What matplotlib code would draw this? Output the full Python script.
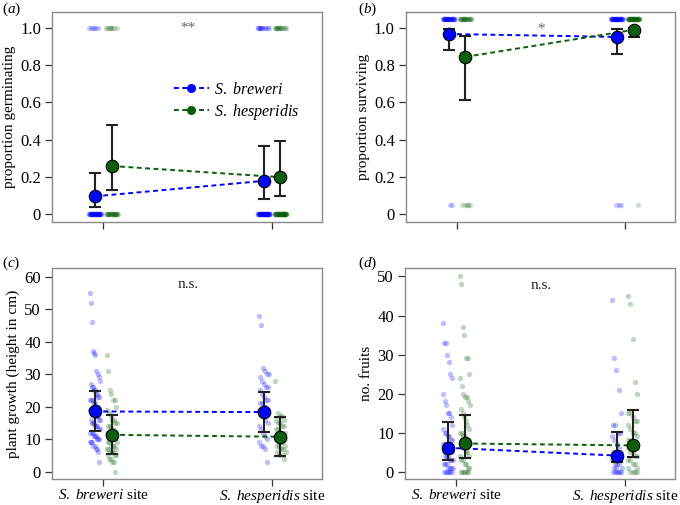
#!/usr/bin/env python3
# -*- coding: utf-8 -*-
"""Reciprocal transplant: germination, survival, growth, fruits (4 panels)."""

import numpy as np
import matplotlib
matplotlib.use("Agg")
import matplotlib.pyplot as plt
from matplotlib.lines import Line2D

plt.rcParams["font.family"] = ["Liberation Serif", "DejaVu Serif"]
plt.rcParams["mathtext.fontset"] = "custom"
plt.rcParams["mathtext.rm"] = "Liberation Serif"
plt.rcParams["mathtext.it"] = "Liberation Serif:italic"

BLUE = "#0000ff"
GREEN = "#0b5e0b"
FRAME = "#8a8a8a"

sites = [r"$\mathit{S.\ breweri}$ site", r"$\mathit{S.\ hesperidis}$ site"]
species = [r"$\mathit{S.\ breweri}$", r"$\mathit{S.\ hesperidis}$"]

# ---- (a) germination: counts of 1 / 0 per species x site
germ_ones = {"brew": [6, 12], "hesp": [8, 14]}
germ_zeros = {"brew": [40, 48], "hesp": [24, 50]}
germ_mean = {"brew": [0.095, 0.178], "hesp": [0.258, 0.198]}
germ_lo = {"brew": [0.040, 0.082], "hesp": [0.130, 0.095]}
germ_hi = {"brew": [0.222, 0.365], "hesp": [0.478, 0.393]}

# ---- (b) survival: counts survived / died (plotted at 1.05 / 0.05)
surv_ones = {"brew": [30, 36], "hesp": [20, 40]}
surv_zeros = {"brew": [2, 3], "hesp": [5, 1]}
surv_mean = {"brew": [0.968, 0.952], "hesp": [0.845, 0.990]}
surv_lo = {"brew": [0.880, 0.858], "hesp": [0.615, 0.950]}
surv_hi = {"brew": [0.995, 0.995], "hesp": [0.955, 0.998]}

# ---- (c) plant growth (height, cm)
grow_brew_s1 = [55, 52, 46, 37, 36.5, 36, 31, 30, 29, 28, 27, 26, 26, 25, 25, 24, 24,
                23, 23, 22, 22, 22, 21, 21, 20, 20, 20, 19, 19, 19, 18, 18, 18, 17,
                17, 17, 16, 16, 16, 15, 15, 15, 14, 14, 14, 13, 13, 12, 12, 12, 11,
                11, 11, 10, 10, 10, 9, 9, 9, 8, 8, 7, 7, 6, 3]
grow_hesp_s1 = [36, 31, 25, 24, 22, 22, 20, 19, 18, 17, 16, 16, 15, 15, 14, 14, 13,
                13, 12, 12, 12, 11, 11, 10, 10, 10, 9, 9, 9, 8, 8, 8, 7, 7, 7, 6, 6,
                6, 5, 5, 5, 4, 4, 3, 3, 0]
grow_brew_s2 = [48, 45, 32, 31, 30, 30, 29, 28, 27, 26, 26, 25, 24, 23, 22, 22, 21,
                21, 20, 20, 19, 19, 18, 17, 16, 15, 14, 13, 12, 11, 10, 9, 8, 8, 7, 3]
grow_hesp_s2 = [28, 18, 17, 17, 16, 16, 15, 15, 14, 14, 13, 13, 12, 12, 12, 11, 11,
                11, 10, 10, 10, 9, 9, 9, 8, 8, 8, 7, 7, 6, 6, 5, 5, 4]
grow_mean = {"brew": [18.5, 18.3], "hesp": [11.3, 10.7]}
grow_lo = {"brew": [12.5, 12.3], "hesp": [5.3, 4.8]}
grow_hi = {"brew": [24.7, 24.4], "hesp": [17.5, 16.7]}

# ---- (d) number of fruits
fruit_brew_s1 = [38, 33, 33, 30, 28, 25, 24, 20, 18, 17, 15, 15, 14, 12, 11, 10, 10,
                 9, 9, 8, 8, 7, 7, 6, 6, 6, 5, 5, 5, 4, 4, 4, 3, 3, 3, 2, 2, 2, 1, 1,
                 1, 1, 0, 0, 0, 0, 0, 0]
fruit_hesp_s1 = [50, 48, 37, 35, 29, 29, 25, 24, 22, 20, 19, 19, 18, 17, 16, 15, 14,
                 13, 12, 11, 10, 10, 9, 9, 8, 8, 7, 7, 6, 6, 5, 5, 4, 4, 3, 3, 2, 2,
                 1, 1, 0, 0, 0, 0, 0, 0]
fruit_brew_s2 = [44, 29, 26, 21, 15, 12, 12, 10, 10, 9, 8, 7, 6, 5, 5, 4, 4, 3, 3, 2,
                 2, 2, 1, 1, 1, 0, 0, 0, 0, 0, 0]
fruit_hesp_s2 = [45, 43, 34, 23, 20, 15, 15, 14, 13, 13, 12, 11, 10, 10, 9, 8, 8, 7,
                 7, 6, 6, 5, 5, 4, 4, 3, 3, 2, 2, 1, 1, 0, 0, 0, 0]
fruit_mean = {"brew": [6.1, 4.1], "hesp": [7.2, 6.7]}
fruit_lo = {"brew": [3.0, 2.4], "hesp": [3.6, 3.7]}
fruit_hi = {"brew": [12.6, 10.2], "hesp": [14.5, 15.9]}

XPOS = [1, 2]
OFF = {"brew": -0.05, "hesp": 0.05}
COL = {"brew": BLUE, "hesp": GREEN}


def jitter(n, width):
    # deterministic spread of n points over [-width, width]
    if n <= 1:
        return np.zeros(n)
    idx = (np.arange(n) * 7) % n
    return (idx / (n - 1) - 0.5) * 2 * width


def raw(ax, x, vals, sp, width=0.03, alpha=0.25):
    vals = np.asarray(vals, dtype=float)
    ax.scatter(x + jitter(len(vals), width), vals, s=15, color=COL[sp],
               alpha=alpha, linewidths=0, zorder=2)


def means(ax, mean, lo, hi):
    for sp in ["brew", "hesp"]:
        xs = [p + OFF[sp] for p in XPOS]
        m = np.array(mean[sp])
        err = [m - np.array(lo[sp]), np.array(hi[sp]) - m]
        ax.plot(xs, m, ls=(0, (2.5, 1.8)), color=COL[sp], lw=1.4, zorder=3)
        ax.errorbar(xs, m, yerr=err, fmt="none", ecolor="#222222", elinewidth=1.5,
                    capsize=4, capthick=1.5, zorder=4)
        ax.plot(xs, m, "o", ms=9, mfc=COL[sp], mec="black", mew=0.8, zorder=5)


def style(ax, ylim, yticks, yticklabels, ylabel, xlabels=True):
    ax.set_xlim(0.696, 2.296)
    ax.set_ylim(*ylim)
    ax.set_yticks(yticks)
    ax.set_yticklabels(yticklabels)
    ax.set_xticks(XPOS)
    if xlabels:
        ax.set_xticklabels(sites)
    else:
        ax.set_xticklabels(["", ""])
    ax.set_ylabel(ylabel, fontsize=11, labelpad=3)
    for s in ax.spines.values():
        s.set_color(FRAME)
        s.set_linewidth(1.0)
    ax.tick_params(axis="both", length=5, width=0.9, color="#333333", pad=3)
    ax.tick_params(axis="y", labelsize=12)
    ax.tick_params(axis="x", labelsize=11, pad=1.5)


fig = plt.figure(figsize=(6.8, 5.05), dpi=100)
ax_a = fig.add_axes([0.0765, 0.5604, 0.397, 0.4158])
ax_b = fig.add_axes([0.597, 0.5604, 0.3956, 0.4158])
ax_c = fig.add_axes([0.0765, 0.0515, 0.397, 0.418])
ax_d = fig.add_axes([0.5956, 0.0515, 0.3970, 0.418])

prop_ticks = [0, 0.2, 0.4, 0.6, 0.8, 1.0]
prop_labels = ["0", "0.2", "0.4", "0.6", "0.8", "1.0"]

# (a)
for sp in ["brew", "hesp"]:
    for i, p in enumerate(XPOS):
        v = np.repeat([1.0, 0.0], [germ_ones[sp][i], germ_zeros[sp][i]])
        raw(ax_a, p + OFF[sp], v, sp, width=0.035, alpha=0.2)
means(ax_a, germ_mean, germ_lo, germ_hi)
style(ax_a, (-0.043, 1.086), prop_ticks, prop_labels, "proportion germinating", False)
ax_a.text(1.5, 1.0, "**", ha="center", va="center", fontsize=11, color="#666666")
handles = [Line2D([], [], color=COL[sp], ls=(0, (2.5, 1.8)), lw=1.4, marker="o",
                  ms=5.5) for sp in ["brew", "hesp"]]
ax_a.legend(handles, species, loc="upper left", bbox_to_anchor=(0.41, 0.72),
            frameon=False, fontsize=11.5, handlelength=2.2, handletextpad=0.3,
            labelspacing=0.25, borderpad=0.2)

# (b)
for sp in ["brew", "hesp"]:
    for i, p in enumerate(XPOS):
        v = np.repeat([1.0, 0.0], [surv_ones[sp][i], surv_zeros[sp][i]]) + 0.05
        raw(ax_b, p + OFF[sp], v, sp, width=0.035, alpha=0.2)
means(ax_b, surv_mean, surv_lo, surv_hi)
style(ax_b, (-0.043, 1.086), prop_ticks, prop_labels, "proportion surviving", False)
ax_b.text(1.5, 0.995, "*", ha="center", va="center", fontsize=11, color="#666666")

# (c)
for sp, p, vals in [("brew", 1, grow_brew_s1), ("hesp", 1, grow_hesp_s1),
                    ("brew", 2, grow_brew_s2), ("hesp", 2, grow_hesp_s2)]:
    raw(ax_c, p + OFF[sp], vals, sp, width=0.03)
means(ax_c, grow_mean, grow_lo, grow_hi)
style(ax_c, (-2.3, 62.7), [0, 10, 20, 30, 40, 50, 60],
      ["0", "10", "20", "30", "40", "50", "60"], "plant growth (height in cm)")
ax_c.text(1.5, 57.5, "n.s.", ha="center", va="center", fontsize=11, color="#222222")

# (d)
for sp, p, vals in [("brew", 1, fruit_brew_s1), ("hesp", 1, fruit_hesp_s1),
                    ("brew", 2, fruit_brew_s2), ("hesp", 2, fruit_hesp_s2)]:
    raw(ax_d, p + OFF[sp], vals, sp, width=0.03)
means(ax_d, fruit_mean, fruit_lo, fruit_hi)
style(ax_d, (-1.9, 52.2), [0, 10, 20, 30, 40, 50],
      ["0", "10", "20", "30", "40", "50"], "no. fruits")
ax_d.text(1.5, 47.7, "n.s.", ha="center", va="center", fontsize=11, color="#222222")

# panel letters
fig.text(0.003, 0.981, r"($\mathit{a}$)", fontsize=11, va="center")
fig.text(0.527, 0.981, r"($\mathit{b}$)", fontsize=11, va="center")
fig.text(0.003, 0.478, r"($\mathit{c}$)", fontsize=11, va="center")
fig.text(0.527, 0.478, r"($\mathit{d}$)", fontsize=11, va="center")

fig.savefig("out.png", dpi=100)
plt.close(fig)
